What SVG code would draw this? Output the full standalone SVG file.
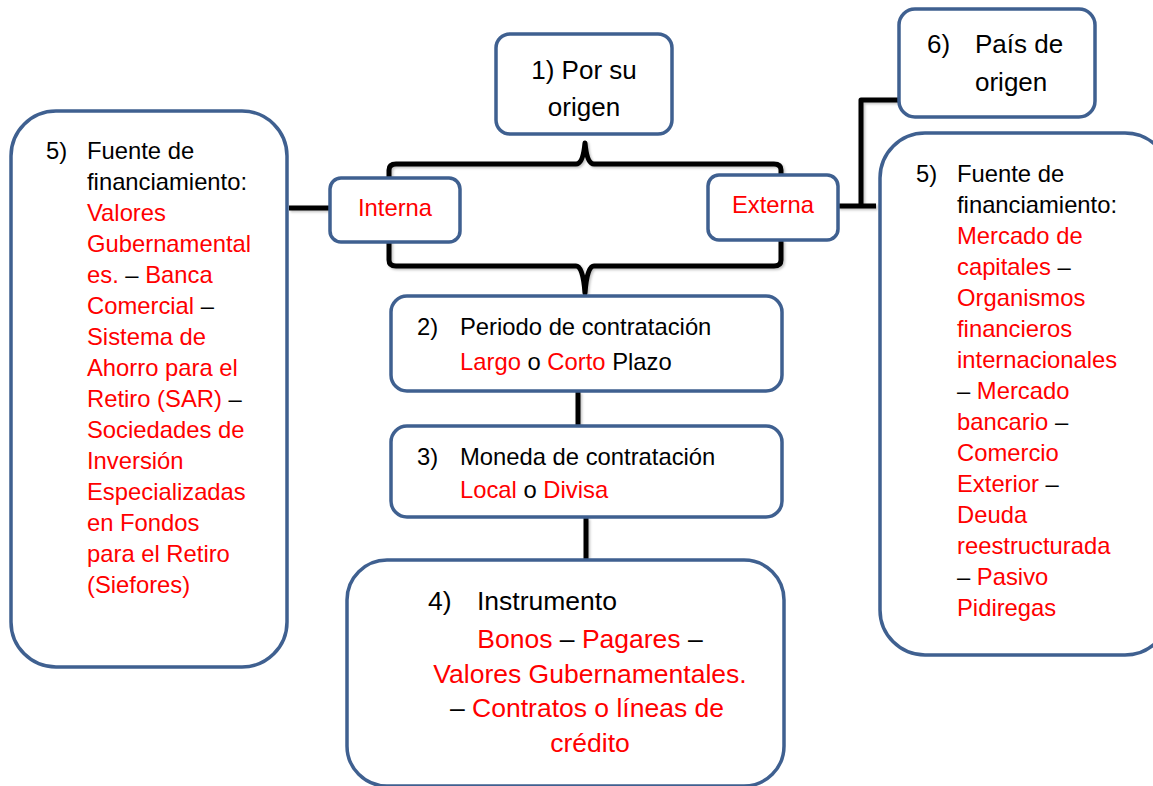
<svg xmlns="http://www.w3.org/2000/svg" width="1153" height="786" viewBox="0 0 1153 786">
<defs>
<filter id="sh" x="-10%" y="-10%" width="130%" height="130%">
<feDropShadow dx="1.5" dy="1.5" stdDeviation="1" flood-color="#000" flood-opacity="0.25"/>
</filter>
</defs>
<style>
.box{fill:#fff;stroke:#3f6090;stroke-width:3.5}
.ln{fill:none;stroke:#000;stroke-width:5;stroke-linejoin:round}
text{font-family:"Liberation Sans",Arial,sans-serif;fill:#000}
.t{font-size:23.8px}
.b{font-size:26px}
.c{font-size:26.5px}
.r{fill:#ff0000}
.k{fill:#000}
</style>
<rect width="1153" height="786" fill="#fff"/>

<g id="connectors" filter="url(#sh)">
<path class="ln" d="M389,180 V170 Q389,164 396,164 H576 Q583,164 585,143 Q587,164 594,164 H774 Q781,164 781,170 V180"/>
<path class="ln" d="M389,240 V260 Q389,266 396,266 H576 Q583,266 585,293 Q587,266 594,266 H774 Q781,266 781,260 V240"/>
<path class="ln" d="M289,208 H330"/>
<path class="ln" d="M838,206 H876 M861,206 V100 H899"/>
<path class="ln" d="M578,392 V425"/>
<path class="ln" d="M586,518 V560"/>
</g>

<g id="n1">
<rect class="box" x="496" y="34" width="176" height="100" rx="14"/>
<text class="b" x="584" y="79" text-anchor="middle">1) Por su</text>
<text class="b" x="584" y="116" text-anchor="middle">origen</text>
</g>

<g id="n6">
<rect class="box" x="899" y="9" width="196" height="108" rx="16"/>
<text class="b" x="927" y="53">6)</text>
<text class="b" x="975" y="53">País de</text>
<text class="b" x="975" y="91">origen</text>
</g>

<g id="interna">
<rect class="box" x="330" y="178" width="130" height="64" rx="11"/>
<text class="t r" x="395" y="216" text-anchor="middle">Interna</text>
</g>

<g id="externa">
<rect class="box" x="708" y="175" width="130" height="65" rx="11"/>
<text class="t r" x="773" y="213" text-anchor="middle">Externa</text>
</g>

<g id="n5left">
<rect class="box" x="11" y="111" width="276" height="556" rx="45"/>
<text class="t" x="46" y="159">5)</text>
<text class="t" x="87" y="159">Fuente de</text>
<text class="t" x="87" y="190">financiamiento:</text>
<text class="t r" x="87" y="221">Valores</text>
<text class="t r" x="87" y="252">Gubernamental</text>
<text class="t" x="87" y="283"><tspan class="r">es.</tspan> – <tspan class="r">Banca</tspan></text>
<text class="t" x="87" y="314"><tspan class="r">Comercial</tspan> –</text>
<text class="t r" x="87" y="345">Sistema de</text>
<text class="t r" x="87" y="376">Ahorro para el</text>
<text class="t" x="87" y="407"><tspan class="r">Retiro (SAR)</tspan> –</text>
<text class="t r" x="87" y="438">Sociedades de</text>
<text class="t r" x="87" y="469">Inversión</text>
<text class="t r" x="87" y="500">Especializadas</text>
<text class="t r" x="87" y="531">en Fondos</text>
<text class="t r" x="87" y="562">para el Retiro</text>
<text class="t r" x="87" y="593">(Siefores)</text>
</g>

<g id="n5right">
<rect class="box" x="880" y="133" width="290" height="522" rx="45"/>
<text class="t" x="916" y="182">5)</text>
<text class="t" x="957" y="182">Fuente de</text>
<text class="t" x="957" y="213">financiamiento:</text>
<text class="t r" x="957" y="244">Mercado de</text>
<text class="t" x="957" y="275"><tspan class="r">capitales</tspan> –</text>
<text class="t r" x="957" y="306">Organismos</text>
<text class="t r" x="957" y="337">financieros</text>
<text class="t r" x="957" y="368">internacionales</text>
<text class="t" x="957" y="399">– <tspan class="r">Mercado</tspan></text>
<text class="t" x="957" y="430"><tspan class="r">bancario</tspan> –</text>
<text class="t r" x="957" y="461">Comercio</text>
<text class="t" x="957" y="492"><tspan class="r">Exterior</tspan> –</text>
<text class="t r" x="957" y="523">Deuda</text>
<text class="t r" x="957" y="554">reestructurada</text>
<text class="t" x="957" y="585">– <tspan class="r">Pasivo</tspan></text>
<text class="t r" x="957" y="616">Pidiregas</text>
</g>

<g id="n2">
<rect class="box" x="391" y="296" width="391" height="95" rx="16"/>
<text class="t" x="417" y="335">2)</text>
<text class="t" x="460" y="335">Periodo de contratación</text>
<text class="t" x="460" y="370"><tspan class="r">Largo</tspan> o <tspan class="r">Corto</tspan> Plazo</text>
</g>

<g id="n3">
<rect class="box" x="391" y="426" width="391" height="91" rx="16"/>
<text class="t" x="417" y="465">3)</text>
<text class="t" x="460" y="465">Moneda de contratación</text>
<text class="t" x="460" y="498"><tspan class="r">Local</tspan> o <tspan class="r">Divisa</tspan></text>
</g>

<g id="n4">
<rect class="box" x="347" y="560" width="437" height="226" rx="40"/>
<text class="c" x="428" y="610">4)</text>
<text class="c" x="477" y="610">Instrumento</text>
<text class="c" x="590" y="648" text-anchor="middle"><tspan class="r">Bonos</tspan> – <tspan class="r">Pagares</tspan> –</text>
<text class="c r" x="590" y="683" text-anchor="middle">Valores Gubernamentales.</text>
<text class="c" x="587" y="717" text-anchor="middle">– <tspan class="r">Contratos o líneas de</tspan></text>
<text class="c r" x="590" y="752" text-anchor="middle">crédito</text>
</g>
</svg>
